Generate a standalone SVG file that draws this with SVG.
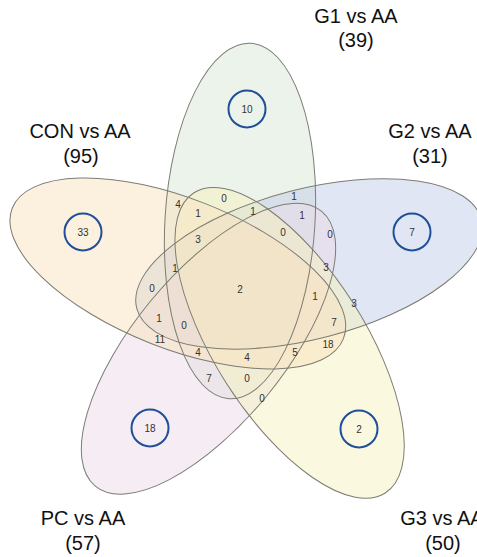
<svg xmlns="http://www.w3.org/2000/svg" width="477" height="557" viewBox="0 0 477 557">
<style>
.fill{fill-opacity:0.5;stroke:none;}
.edge{fill:none;stroke:#7d7c73;stroke-width:1;}
.lbl{font-family:"Liberation Sans",Arial,sans-serif;font-size:20px;fill:#111;text-anchor:middle;}
.n{font-family:"Liberation Sans",Arial,sans-serif;font-size:10px;fill:#333;text-anchor:middle;}
.ring{fill:none;stroke:#1f4e9b;stroke-width:2;}
</style>
<defs>
<ellipse id="e" cx="240" cy="221" rx="75" ry="178" transform="rotate(3.5 240 221)"/>
</defs>
<rect width="477" height="557" fill="#fff"/>
<g id="set-G1">
<use href="#e" class="fill" fill="#d9e7d5"/>
</g>
<g id="set-G2">
<use href="#e" class="fill" fill="#c1cde7" transform="rotate(72 245 290)"/>
</g>
<g id="set-PC">
<use href="#e" class="fill" fill="#ebd9e9" transform="rotate(216 245 290)"/>
</g>
<g id="set-G3">
<use href="#e" class="fill" fill="#f5f1bd" transform="rotate(144 245 290)"/>
</g>
<g id="set-CON">
<use href="#e" class="fill" fill="#f9e1bd" transform="rotate(-72 245 290)"/>
</g>
<g id="outlines">
<use href="#e" class="edge"/>
<use href="#e" class="edge" transform="rotate(72 245 290)"/>
<use href="#e" class="edge" transform="rotate(144 245 290)"/>
<use href="#e" class="edge" transform="rotate(216 245 290)"/>
<use href="#e" class="edge" transform="rotate(-72 245 290)"/>
</g>
<g id="labels">
<text class="lbl" x="356" y="23">G1 vs AA</text>
<text class="lbl" x="356" y="47">(39)</text>
<text class="lbl" x="80" y="138">CON vs AA</text>
<text class="lbl" x="81" y="163">(95)</text>
<text class="lbl" x="430" y="138">G2 vs AA</text>
<text class="lbl" x="430" y="163">(31)</text>
<text class="lbl" x="83" y="525">PC vs AA</text>
<text class="lbl" x="83" y="550">(57)</text>
<text class="lbl" x="442" y="525">G3 vs AA</text>
<text class="lbl" x="443" y="550">(50)</text>
</g>
<g id="unique">
<circle class="ring" cx="247" cy="109" r="18.5"/><text class="n" x="247" y="112.5">10</text>
<circle class="ring" cx="83" cy="232" r="18.5"/><text class="n" x="83" y="235.5">33</text>
<circle class="ring" cx="412" cy="232" r="18.5"/><text class="n" x="412" y="235.5">7</text>
<circle class="ring" cx="150" cy="428" r="18.5"/><text class="n" x="150" y="431.5">18</text>
<circle class="ring" cx="359" cy="429" r="18.5"/><text class="n" x="359" y="432.5">2</text>
</g>
<g id="counts">
<text class="n" x="178" y="207.5">4</text>
<text class="n" x="224" y="201.5">0</text>
<text class="n" x="294" y="199.5">1</text>
<text class="n" x="198" y="216.5">1</text>
<text class="n" x="253" y="214.5">1</text>
<text class="n" x="302" y="218.5">1</text>
<text class="n" x="283" y="235.5">0</text>
<text class="n" x="330" y="237.5">0</text>
<text class="n" x="198" y="242.5">3</text>
<text class="n" x="175" y="271.5">1</text>
<text class="n" x="326" y="270.5">3</text>
<text class="n" x="152" y="291.5">0</text>
<text class="n" x="240" y="292.5">2</text>
<text class="n" x="315" y="299.5">1</text>
<text class="n" x="354" y="306.5">3</text>
<text class="n" x="159" y="321.5">1</text>
<text class="n" x="184" y="328.5">0</text>
<text class="n" x="334" y="325.5">7</text>
<text class="n" x="160" y="342.5">11</text>
<text class="n" x="328" y="347.5">18</text>
<text class="n" x="198" y="355.5">4</text>
<text class="n" x="247" y="360.5">4</text>
<text class="n" x="295" y="355.5">5</text>
<text class="n" x="209" y="381.5">7</text>
<text class="n" x="247" y="381.5">0</text>
<text class="n" x="262" y="401.5">0</text>
</g>
</svg>
